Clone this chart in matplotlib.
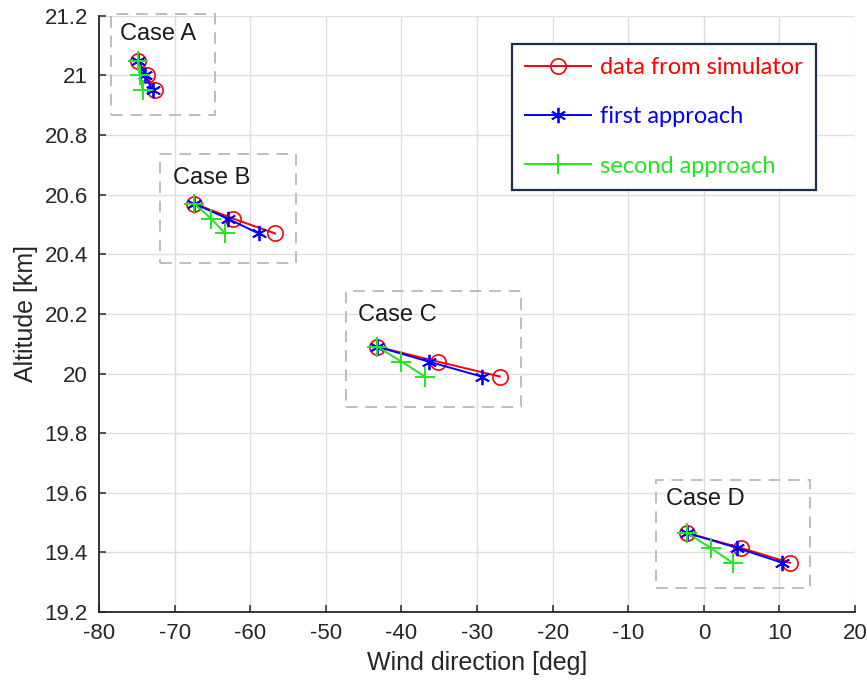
import numpy as np
import matplotlib.pyplot as plt
from matplotlib.patches import Rectangle
from matplotlib.ticker import FuncFormatter

# data, one sub-list per case (A, B, C, D)
cases = ['Case A', 'Case B', 'Case C', 'Case D']
sim_x = [[-74.8, -73.7, -72.6], [-67.4, -62.3, -56.7], [-43.2, -35.2, -27.0], [-2.2, 4.9, 11.4]]
sim_y = [[21.05, 21.0, 20.95], [20.57, 20.52, 20.47], [20.09, 20.04, 19.99], [19.465, 19.415, 19.365]]
app1_x = [[-74.8, -73.9, -72.9], [-67.4, -63.0, -58.9], [-43.2, -36.4, -29.4], [-2.2, 4.4, 10.4]]
app1_y = sim_y
app2_x = [[-74.8, -74.6, -74.2], [-67.4, -65.2, -63.3], [-43.2, -40.0, -36.9], [-2.2, 0.9, 3.8]]
app2_y = [[21.05, 21.0, 20.95], [20.57, 20.52, 20.47], [20.09, 20.04, 19.99], [19.465, 19.415, 19.365]]

# dashed frames round each case and label anchors
box_x0 = [-78.4, -71.9, -47.3, -6.3]
box_x1 = [-64.7, -53.9, -24.2, 14.0]
box_y0 = [20.867, 20.37, 19.889, 19.281]
box_y1 = [21.207, 20.736, 20.276, 19.644]
label_x = [-77.2, -70.2, -45.8, -5.0]
label_y = [21.14, 20.655, 20.195, 19.58]

plt.rcParams['font.family'] = ['Liberation Sans', 'DejaVu Sans']
plt.rcParams['axes.unicode_minus'] = False  #ハイフンのマイナス
txt_col = '#262626'

fig = plt.figure(figsize=(8.67, 6.86), dpi=100)
ax = fig.add_axes([0.1142, 0.1079, 0.8720, 0.8690])

#枠
for i in range(len(cases)):
    ax.add_patch(Rectangle((box_x0[i], box_y0[i]), box_x1[i] - box_x0[i], box_y1[i] - box_y0[i],
                           fill=False, edgecolor='#bdbdbd', lw=1.4, ls=(0, (6, 4)), clip_on=False, zorder=2))
    ax.text(label_x[i], label_y[i], cases[i], fontsize=17, color='#1a1a1a', va='center', ha='left', zorder=3)

#プロット
for i in range(len(cases)):
    ax.plot(sim_x[i], sim_y[i], '-', color='red', lw=1.4, marker='o', ms=11, mfc='none', mew=1.2,
            label='data from simulator' if i == 0 else None, zorder=4)
    ax.plot(app1_x[i], app1_y[i], '-', color='blue', lw=1.4, marker=(6, 2, 0), ms=11, mew=1.3,
            label='first approach' if i == 0 else None, zorder=5)
    ax.plot(app2_x[i], app2_y[i], '-', color='#1ee81e', lw=1.4, marker='+', ms=14, mew=1.4,
            label='second approach' if i == 0 else None, zorder=6)

ax.set_xlim(-80, 20)
ax.set_ylim(19.2, 21.2)
ax.set_xticks(np.arange(-80, 21, 10))
ax.set_yticks(np.arange(19.2, 21.21, 0.2))
ax.yaxis.set_major_formatter(FuncFormatter(lambda v, p: '%g' % round(v, 1)))
ax.grid(True, color='#dedede', lw=1.0)
ax.set_axisbelow(True)
ax.spines['top'].set_visible(False)
ax.spines['right'].set_visible(False)
for s in ['left', 'bottom']:
    ax.spines[s].set_color(txt_col)
    ax.spines[s].set_linewidth(1.3)
ax.tick_params(direction='in', length=5, width=1.1, colors=txt_col, labelsize=16, pad=8)
ax.set_xlabel('Wind direction [deg]', fontsize=18, color=txt_col, labelpad=5)
ax.set_ylabel('Altitude [km]', fontsize=18, color=txt_col, labelpad=5)

#凡例
leg = ax.legend(loc='upper left', bbox_to_anchor=(0.546, 0.953), borderaxespad=0,
                prop={'family': 'Lato', 'size': 17}, labelcolor='linecolor',
                handlelength=2.8, handletextpad=0.4, labelspacing=1.2, borderpad=0.55,
                fancybox=False, framealpha=1)
leg.get_frame().set_edgecolor('#1f2d4a')
leg.get_frame().set_linewidth(1.6)

plt.savefig('out.png', dpi=100)
